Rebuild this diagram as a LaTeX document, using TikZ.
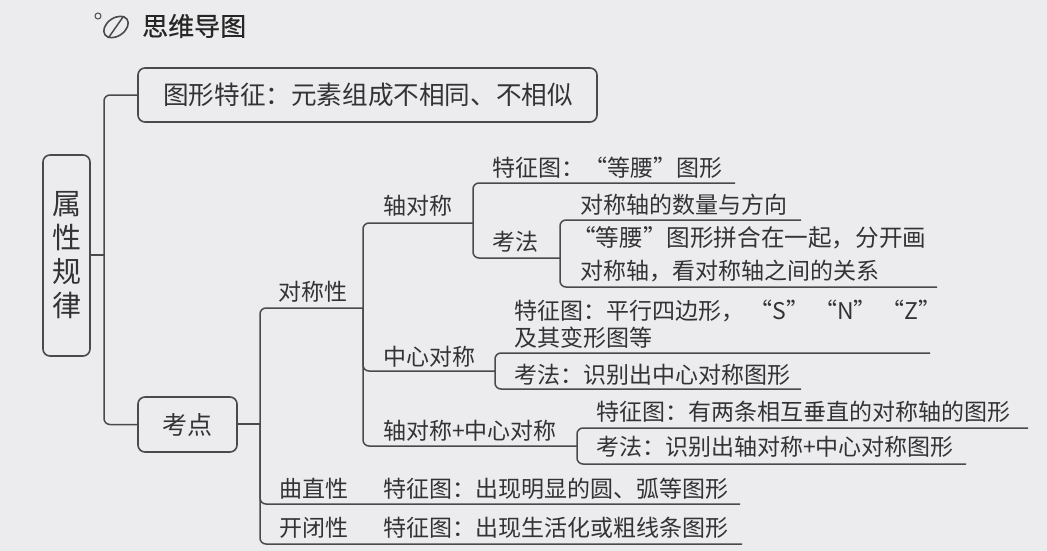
\documentclass[tikz,border=0pt]{standalone}
\usepackage{fontspec}
\setmainfont{Noto Sans CJK SC}
\usetikzlibrary{arrows.meta,positioning,shapes.geometric,calc}
\definecolor{mappaper}{HTML}{ECECEE}
\definecolor{mapline}{HTML}{4A4A4C}
\definecolor{mapink}{HTML}{333335}
\tikzset{
  link/.style={draw=mapline, line width=1.5pt, rounded corners=6pt},
  topicbox/.style={rectangle, rounded corners=7pt, draw=mapline, line width=1.6pt, inner sep=0pt, text=mapink, align=center},
  leaf/.style={anchor=west, inner sep=0pt, text=mapink, font=\fontsize{23}{27}\selectfont},
}
\begin{document}
\begin{tikzpicture}[x=1pt,y=-1pt]
\useasboundingbox[fill=mappaper] (0,0) rectangle (1047,551);

% heading
\node[circle, draw=mapline, line width=1pt, minimum size=6pt, inner sep=0pt] (ring) at (98,16) {};
\node[ellipse, rotate=35, draw=mapline, line width=1.6pt, minimum width=27pt, minimum height=18pt, inner sep=0pt] (bean) at (116,27) {};
\draw[mapline, line width=1.5pt] (bean.-160) -- (bean.20);
\node[anchor=west, inner sep=0pt, text=black!85, font=\fontsize{26}{30}\selectfont\addfontfeature{FakeBold=0.6}] (heading) at (142,26) {思维导图};

% boxes
\node[topicbox, minimum width=47pt, minimum height=201pt, font=\fontsize{29}{34}\selectfont]
  (root) at (66.5,255.5) {属\\性\\规\\律};
\node[topicbox, minimum width=459pt, minimum height=54pt] (shape) at (367.5,95) {};
\node[leaf, font=\fontsize{25.6}{30}\selectfont] (shapetext) at (163,95) {图形特征：元素组成不相同、不相似};
\node[topicbox, minimum width=99pt, minimum height=55pt, font=\fontsize{25}{30}\selectfont]
  (exam) at (187.5,424.5) {考点};

% labels
\node[leaf] (sym) at (278,292) {对称性};
\node[leaf] (axis) at (383,206) {轴对称};
\node[leaf] (axisfig) at (492,168) {特征图：“等腰”图形};
\node[leaf] (axistest) at (492,242) {考法};
\node[leaf] (axisa) at (580,205) {对称轴的数量与方向};
\node[leaf, font=\fontsize{23.6}{27}\selectfont] (axisb) at (572,238) {“等腰”图形拼合在一起，分开画};
\node[leaf] (axisc) at (580,271) {对称轴，看对称轴之间的关系};
\node[leaf] (center) at (383,357) {中心对称};
\node[leaf] (centerfig) at (514,311) {特征图：平行四边形， “S” “N” “Z”};
\node[leaf] (centerfigb) at (514,338) {及其变形图等};
\node[leaf] (centertest) at (514,375) {考法：识别出中心对称图形};
\node[leaf] (both) at (383,431) {轴对称+中心对称};
\node[leaf] (bothfig) at (596,412) {特征图：有两条相互垂直的对称轴的图形};
\node[leaf] (bothtest) at (596,447) {考法：识别出轴对称+中心对称图形};
\node[leaf] (curve) at (279,489) {曲直性};
\node[leaf] (curvefig) at (383,489) {特征图：出现明显的圆、弧等图形};
\node[leaf] (closed) at (279,528) {开闭性};
\node[leaf] (closedfig) at (383,528) {特征图：出现生活化或粗线条图形};

% branch points and line ends
\coordinate (rootfork) at (104,255);
\coordinate (examfork) at (260,424);
\coordinate (symfork) at (363,308);
\coordinate (axisfork) at (473,223);
\coordinate (testfork) at (560,258);
\coordinate (centerfork) at (495,371);
\coordinate (bothfork) at (577,446);
\coordinate (axisfigend) at (735,183);
\coordinate (axisaend) at (801,220);
\coordinate (axiscend) at (937,287);
\coordinate (centerfigend) at (930,353);
\coordinate (centertestend) at (801,389);
\coordinate (bothfigend) at (1028,428);
\coordinate (bothtestend) at (966,464);
\coordinate (curveend) at (740,504);
\coordinate (closedend) at (742,544);

% connectors
\draw[link] (root.east |- rootfork) -- (rootfork);
\draw[link] (shape.west) -| (rootfork) |- (exam.west);
\draw[link] (exam.east |- examfork) -- (examfork);
\draw[link] (symfork) -| (examfork) |- (closedend);
\draw[link] (examfork) |- (curveend);
\draw[link] (axisfork) -| (symfork) |- (bothfork);
\draw[link] (symfork) |- (centerfork);
\draw[link] (axisfigend) -| (axisfork) |- (testfork);
\draw[link] (axisaend) -| (testfork) |- (axiscend);
\draw[link] (centerfigend) -| (centerfork) |- (centertestend);
\draw[link] (bothfigend) -| (bothfork) |- (bothtestend);
\end{tikzpicture}
\end{document}
